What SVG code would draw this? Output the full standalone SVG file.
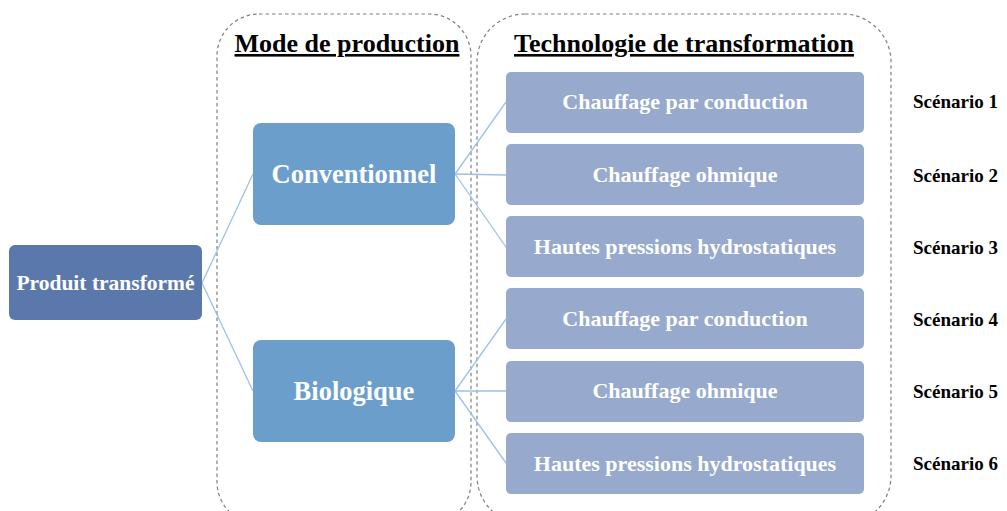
<svg xmlns="http://www.w3.org/2000/svg" width="1007" height="511" viewBox="0 0 1007 511">
<style>
.grp{fill:none;stroke:#808080;stroke-width:1.2;stroke-dasharray:3.5,3}
.hdr{font-family:"Liberation Serif",serif;font-weight:bold;font-size:26px;fill:#000;text-decoration:underline}
.root{fill:#5b78ad}
.mode{fill:#6b9ecb}
.tech{fill:#97aacd}
.wt{font-family:"Liberation Serif",serif;font-weight:bold;fill:#fff;text-anchor:middle}
.tt{font-size:22px}
.sc{font-family:"Liberation Serif",serif;font-weight:bold;font-size:19px;fill:#000}
.con{stroke:#9dc1e8;stroke-width:1.3;fill:none}
</style>
<rect width="1007" height="511" fill="#fff"/>
<g id="groups">
<rect class="grp" x="217" y="14" width="254" height="510" rx="42"/>
<rect class="grp" x="477" y="14" width="414" height="510" rx="48"/>
<text class="hdr" x="347" y="52" text-anchor="middle">Mode de production</text>
<text class="hdr" x="684" y="52" text-anchor="middle">Technologie de transformation</text>
</g>
<g id="connectors">
<line class="con" x1="202" y1="283" x2="253" y2="174"/>
<line class="con" x1="202" y1="283" x2="253" y2="391"/>
<line class="con" x1="455" y1="174" x2="506" y2="102"/>
<line class="con" x1="455" y1="174" x2="506" y2="175"/>
<line class="con" x1="455" y1="174" x2="506" y2="247"/>
<line class="con" x1="455" y1="391" x2="506" y2="319"/>
<line class="con" x1="455" y1="391" x2="506" y2="391"/>
<line class="con" x1="455" y1="391" x2="506" y2="463"/>
</g>
<g id="produit">
<rect class="root" x="9" y="245" width="193" height="75" rx="6"/>
<text class="wt" x="105.5" y="290" font-size="21.5">Produit transformé</text>
</g>
<g id="conventionnel">
<rect class="mode" x="253" y="123" width="202" height="102" rx="8"/>
<text class="wt" x="354" y="183" font-size="26.5">Conventionnel</text>
</g>
<g id="biologique">
<rect class="mode" x="253" y="340" width="202" height="102" rx="8"/>
<text class="wt" x="354" y="400" font-size="26.5">Biologique</text>
</g>
<g id="tech1">
<rect class="tech" x="506" y="72" width="358" height="61" rx="5"/>
<text class="wt tt" x="685" y="109">Chauffage par conduction</text>
</g>
<g id="tech2">
<rect class="tech" x="506" y="144" width="358" height="61" rx="5"/>
<text class="wt tt" x="685" y="182">Chauffage ohmique</text>
</g>
<g id="tech3">
<rect class="tech" x="506" y="216" width="358" height="61" rx="5"/>
<text class="wt tt" x="685" y="254">Hautes pressions hydrostatiques</text>
</g>
<g id="tech4">
<rect class="tech" x="506" y="288" width="358" height="61" rx="5"/>
<text class="wt tt" x="685" y="326">Chauffage par conduction</text>
</g>
<g id="tech5">
<rect class="tech" x="506" y="361" width="358" height="61" rx="5"/>
<text class="wt tt" x="685" y="398">Chauffage ohmique</text>
</g>
<g id="tech6">
<rect class="tech" x="506" y="433" width="358" height="61" rx="5"/>
<text class="wt tt" x="685" y="471">Hautes pressions hydrostatiques</text>
</g>
<g id="scenarios">
<text class="sc" x="913" y="108">Scénario 1</text>
<text class="sc" x="913" y="182">Scénario 2</text>
<text class="sc" x="913" y="254">Scénario 3</text>
<text class="sc" x="913" y="326">Scénario 4</text>
<text class="sc" x="913" y="398">Scénario 5</text>
<text class="sc" x="913" y="470">Scénario 6</text>
</g>
</svg>
